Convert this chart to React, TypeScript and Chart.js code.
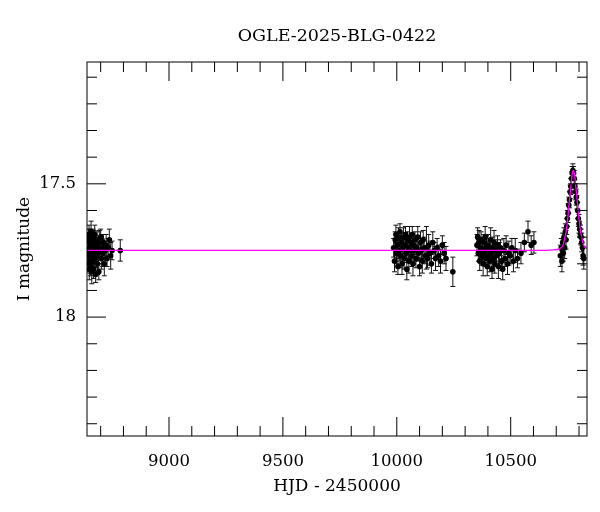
import React, { useEffect, useRef } from 'react';
import { Chart, registerables } from 'chart.js';

Chart.register(...registerables);

const chartTitle = 'OGLE-2025-BLG-0422';
const xTitle = 'HJD - 2450000';
const yTitle = 'I magnitude';

// season 1 (2019)
const s1Hjd = [8645, 8646, 8647, 8648, 8649, 8650, 8651, 8652, 8653, 8654, 8655, 8656, 8657, 8658, 8660, 8661, 8662, 8664, 8665, 8666, 8668, 8669, 8671, 8672, 8674, 8676, 8678, 8680, 8682, 8684, 8686, 8688, 8690, 8692, 8694, 8697, 8700, 8703, 8706, 8709, 8712, 8716, 8720, 8724, 8728, 8733, 8738, 8744, 8750, 8786];
const s1Mag = [17.76, 17.71, 17.80, 17.74, 17.69, 17.82, 17.77, 17.72, 17.79, 17.70, 17.75, 17.81, 17.73, 17.68, 17.77, 17.83, 17.71, 17.74, 17.79, 17.70, 17.76, 17.82, 17.72, 17.78, 17.69, 17.75, 17.84, 17.73, 17.77, 17.71, 17.80, 17.74, 17.76, 17.83, 17.72, 17.75, 17.70, 17.78, 17.74, 17.76, 17.72, 17.80, 17.75, 17.73, 17.78, 17.74, 17.71, 17.77, 17.75, 17.75];
const s1Err = [0.035, 0.04, 0.03, 0.045, 0.035, 0.04, 0.03, 0.035, 0.045, 0.03, 0.04, 0.035, 0.03, 0.04, 0.035, 0.045, 0.03, 0.04, 0.035, 0.03, 0.04, 0.035, 0.045, 0.03, 0.035, 0.04, 0.03, 0.035, 0.045, 0.03, 0.04, 0.035, 0.04, 0.03, 0.045, 0.035, 0.03, 0.04, 0.035, 0.05, 0.03, 0.045, 0.035, 0.04, 0.03, 0.035, 0.04, 0.05, 0.035, 0.04];

// season 2 (2022-23)
const s2Hjd = [9986, 9990, 9993, 9996, 9999, 10002, 10005, 10008, 10011, 10014, 10017, 10020, 10023, 10026, 10029, 10032, 10035, 10038, 10041, 10044, 10047, 10050, 10053, 10056, 10059, 10062, 10065, 10068, 10071, 10074, 10077, 10080, 10084, 10088, 10092, 10096, 10100, 10104, 10108, 10112, 10116, 10120, 10125, 10130, 10135, 10140, 10146, 10152, 10158, 10164, 10170, 10177, 10184, 10192, 10200, 10208, 10216, 10246];
const s2Mag = [17.74, 17.79, 17.71, 17.69, 17.76, 17.73, 17.81, 17.70, 17.75, 17.68, 17.77, 17.72, 17.80, 17.74, 17.70, 17.78, 17.73, 17.69, 17.76, 17.82, 17.71, 17.74, 17.79, 17.70, 17.75, 17.72, 17.77, 17.69, 17.80, 17.73, 17.75, 17.71, 17.78, 17.74, 17.70, 17.76, 17.81, 17.72, 17.75, 17.79, 17.71, 17.74, 17.77, 17.74, 17.78, 17.73, 17.76, 17.80, 17.72, 17.75, 17.78, 17.74, 17.77, 17.79, 17.73, 17.76, 17.78, 17.83];
const s2Err = [0.035, 0.04, 0.03, 0.035, 0.04, 0.045, 0.03, 0.035, 0.04, 0.03, 0.045, 0.035, 0.04, 0.03, 0.035, 0.04, 0.045, 0.03, 0.035, 0.04, 0.03, 0.035, 0.045, 0.04, 0.03, 0.035, 0.04, 0.03, 0.045, 0.035, 0.04, 0.03, 0.035, 0.045, 0.04, 0.03, 0.035, 0.04, 0.03, 0.045, 0.035, 0.04, 0.03, 0.08, 0.035, 0.04, 0.045, 0.035, 0.04, 0.03, 0.045, 0.035, 0.04, 0.045, 0.035, 0.04, 0.045, 0.055];

// season 3 (2024)
const s3Hjd = [10352, 10355, 10358, 10361, 10364, 10367, 10370, 10373, 10376, 10379, 10382, 10385, 10388, 10391, 10394, 10397, 10400, 10403, 10406, 10409, 10412, 10415, 10418, 10421, 10424, 10427, 10430, 10434, 10438, 10442, 10446, 10450, 10455, 10460, 10465, 10470, 10475, 10480, 10486, 10492, 10498, 10505, 10512, 10520, 10530, 10545, 10560, 10576, 10590, 10602];
const s3Mag = [17.73, 17.70, 17.76, 17.72, 17.79, 17.74, 17.71, 17.77, 17.75, 17.80, 17.72, 17.76, 17.70, 17.78, 17.74, 17.81, 17.73, 17.77, 17.75, 17.79, 17.71, 17.76, 17.82, 17.74, 17.78, 17.72, 17.80, 17.75, 17.77, 17.73, 17.81, 17.76, 17.74, 17.79, 17.82, 17.75, 17.78, 17.73, 17.80, 17.76, 17.77, 17.74, 17.79, 17.75, 17.78, 17.76, 17.72, 17.68, 17.73, 17.72];
const s3Err = [0.04, 0.035, 0.03, 0.045, 0.035, 0.04, 0.03, 0.035, 0.04, 0.045, 0.03, 0.035, 0.04, 0.03, 0.045, 0.035, 0.04, 0.03, 0.035, 0.04, 0.045, 0.03, 0.035, 0.04, 0.03, 0.045, 0.035, 0.04, 0.03, 0.035, 0.045, 0.04, 0.03, 0.035, 0.04, 0.045, 0.03, 0.035, 0.04, 0.045, 0.03, 0.035, 0.04, 0.045, 0.035, 0.04, 0.035, 0.04, 0.035, 0.04];

// season 4 (2025, event)
const s4Hjd = [10718, 10722, 10725, 10728, 10731, 10734, 10737, 10740, 10743, 10746, 10749, 10752, 10755, 10758, 10761, 10764, 10767, 10770, 10773, 10776, 10779, 10782, 10785, 10788, 10791, 10794, 10797, 10800, 10803, 10806, 10809, 10812, 10815, 10818, 10821];
const s4Mag = [17.77, 17.74, 17.79, 17.72, 17.76, 17.70, 17.74, 17.68, 17.71, 17.66, 17.63, 17.61, 17.58, 17.56, 17.53, 17.51, 17.48, 17.46, 17.45, 17.46, 17.48, 17.51, 17.53, 17.55, 17.57, 17.60, 17.63, 17.65, 17.67, 17.69, 17.70, 17.72, 17.74, 17.77, 17.78];
const s4Err = [0.04, 0.035, 0.04, 0.035, 0.03, 0.035, 0.04, 0.03, 0.035, 0.03, 0.03, 0.035, 0.03, 0.03, 0.025, 0.03, 0.025, 0.025, 0.025, 0.025, 0.03, 0.025, 0.03, 0.03, 0.025, 0.03, 0.03, 0.035, 0.03, 0.035, 0.03, 0.035, 0.04, 0.035, 0.04];

// microlensing model curve
const modelHjd = [8640, 10600, 10690, 10715, 10730, 10738, 10743, 10747, 10751, 10756, 10760, 10765, 10769, 10772, 10775, 10778, 10781, 10785, 10790, 10794, 10799, 10803, 10807, 10812, 10820, 10835];
const modelMag = [17.75, 17.75, 17.748, 17.743, 17.73, 17.70, 17.68, 17.655, 17.625, 17.58, 17.545, 17.505, 17.47, 17.455, 17.45, 17.455, 17.47, 17.505, 17.545, 17.58, 17.625, 17.655, 17.68, 17.70, 17.73, 17.743];

const xMajorTicks = [9000, 9500, 10000, 10500];
const xMinorTicks = [8700, 8800, 8900, 9100, 9200, 9300, 9400, 9600, 9700, 9800, 9900, 10100, 10200, 10300, 10400, 10600, 10700, 10800];
const yMajorTicks = [17.5, 18];
const yMinorTicks = [17.1, 17.2, 17.3, 17.4, 17.6, 17.7, 17.8, 17.9, 18.1, 18.2, 18.3, 18.4];

const X_MIN = 8640;
const X_MAX = 10835;
const Y_MIN = 17.043;
const Y_MAX = 18.446;

const FONT = "'DejaVu Serif', serif";

const allHjd = [...s1Hjd, ...s2Hjd, ...s3Hjd, ...s4Hjd];
const allMag = [...s1Mag, ...s2Mag, ...s3Mag, ...s4Mag];
const allErr = [...s1Err, ...s2Err, ...s3Err, ...s4Err];

// error bars under the points, inward ticks and frame on top
const errorBars = {
  id: 'errorBars',
  beforeDatasetsDraw(chart: any) {
    const { ctx, chartArea: a, scales } = chart;
    ctx.save();
    ctx.beginPath();
    ctx.rect(a.left, a.top, a.right - a.left, a.bottom - a.top);
    ctx.clip();
    ctx.strokeStyle = '#111';
    ctx.lineWidth = 1;
    ctx.beginPath();
    allHjd.forEach((h, i) => {
      const px = scales.x.getPixelForValue(h);
      const y1 = scales.y.getPixelForValue(allMag[i] - allErr[i]);
      const y2 = scales.y.getPixelForValue(allMag[i] + allErr[i]);
      ctx.moveTo(px, y1);
      ctx.lineTo(px, y2);
      ctx.moveTo(px - 2.5, y1);
      ctx.lineTo(px + 2.5, y1);
      ctx.moveTo(px - 2.5, y2);
      ctx.lineTo(px + 2.5, y2);
    });
    ctx.stroke();
    ctx.restore();
  },
};

const frameTicks = {
  id: 'frameTicks',
  afterDatasetsDraw(chart: any) {
    const { ctx, chartArea: a, scales } = chart;
    ctx.save();
    ctx.strokeStyle = '#000';
    ctx.lineWidth = 1;
    ctx.beginPath();
    const xt = (v: number, len: number) => {
      const px = scales.x.getPixelForValue(v);
      ctx.moveTo(px, a.bottom);
      ctx.lineTo(px, a.bottom - len);
      ctx.moveTo(px, a.top);
      ctx.lineTo(px, a.top + len);
    };
    const yt = (v: number, len: number) => {
      const py = scales.y.getPixelForValue(v);
      ctx.moveTo(a.left, py);
      ctx.lineTo(a.left + len, py);
      ctx.moveTo(a.right, py);
      ctx.lineTo(a.right - len, py);
    };
    xMajorTicks.forEach((v) => xt(v, 19));
    xMinorTicks.forEach((v) => xt(v, 10));
    yMajorTicks.forEach((v) => yt(v, 19));
    yMinorTicks.forEach((v) => yt(v, 10));
    ctx.stroke();
    ctx.strokeRect(a.left, a.top, a.right - a.left, a.bottom - a.top);
    ctx.restore();
  },
};

const App: React.FC = () => {
  const canvasRef = useRef<HTMLCanvasElement | null>(null);

  useEffect(() => {
    if (!canvasRef.current) return;
    const chart = new Chart(canvasRef.current, {
      type: 'scatter',
      data: {
        datasets: [
          {
            label: 'model',
            data: modelHjd.map((h, i) => ({ x: h, y: modelMag[i] })),
            showLine: true,
            borderColor: '#ff00ff',
            borderWidth: 1.3,
            pointRadius: 0,
            cubicInterpolationMode: 'monotone',
          },
          {
            label: 'OGLE',
            data: allHjd.map((h, i) => ({ x: h, y: allMag[i] })),
            backgroundColor: '#000',
            borderColor: '#000',
            borderWidth: 0,
            pointRadius: 2.8,
          },
        ],
      },
      options: {
        responsive: true,
        maintainAspectRatio: false,
        animation: false,
        layout: { padding: { left: 0, right: 13, top: 0, bottom: 0 } },
        plugins: {
          legend: { display: false },
          tooltip: { enabled: false },
          title: {
            display: true,
            text: chartTitle,
            fullSize: false,
            color: '#000',
            font: { family: FONT, size: 17.5, weight: 'normal' },
            padding: { top: 26, bottom: 15 },
          },
        },
        scales: {
          x: {
            type: 'linear',
            min: X_MIN,
            max: X_MAX,
            afterBuildTicks: (s: any) => {
              s.ticks = xMajorTicks.map((v) => ({ value: v }));
            },
            afterFit: (s: any) => {
              s.height = 76;
            },
            ticks: {
              autoSkip: false,
              maxRotation: 0,
              padding: 16,
              color: '#000',
              font: { family: FONT, size: 16.5 },
              callback: (v: any) => String(v),
            },
            grid: { display: false, drawTicks: false },
            border: { display: false },
            title: {
              display: true,
              text: xTitle,
              color: '#000',
              font: { family: FONT, size: 17 },
              padding: { top: 0, bottom: 15 },
            },
          },
          y: {
            type: 'linear',
            reverse: true,
            min: Y_MIN,
            max: Y_MAX,
            afterBuildTicks: (s: any) => {
              s.ticks = yMajorTicks.map((v) => ({ value: v }));
            },
            afterFit: (s: any) => {
              s.width = 87;
            },
            ticks: {
              autoSkip: false,
              padding: 11,
              color: '#000',
              font: { family: FONT, size: 16.5 },
              callback: (v: any) => String(v),
            },
            grid: { display: false, drawTicks: false },
            border: { display: false },
            title: {
              display: true,
              text: yTitle,
              color: '#000',
              font: { family: FONT, size: 17 },
              padding: { top: 14, bottom: 0 },
            },
          },
        },
      },
      plugins: [errorBars, frameTicks],
    });
    return () => chart.destroy();
  }, []);

  return (
    <div style={{ position: 'fixed', left: 0, top: 0, width: 600, height: 512, background: '#fff' }}>
      <canvas ref={canvasRef}></canvas>
    </div>
  );
};

export default App;
